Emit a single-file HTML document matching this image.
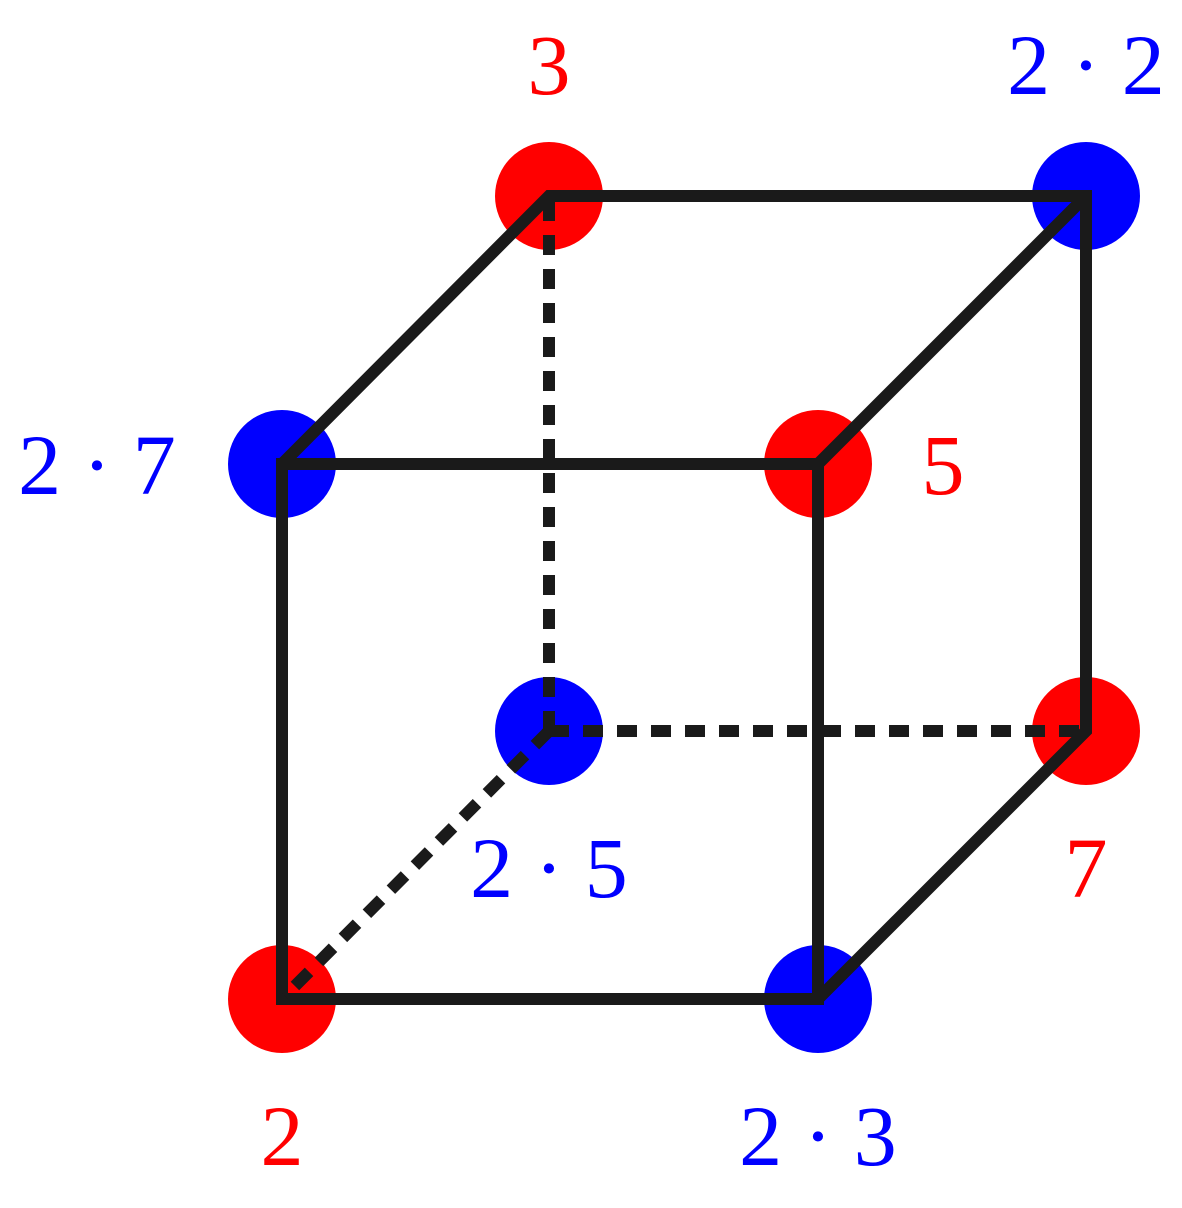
<!DOCTYPE html>
<html><head><style>body{margin:0;background:#fff}svg{display:block}</style></head><body>
<svg width="1182" height="1208" viewBox="0 0 1182 1208" xmlns="http://www.w3.org/2000/svg">
<g>
<circle cx="282" cy="464" r="54" fill="#0000ff"/>
<circle cx="818" cy="464" r="54" fill="#ff0000"/>
<circle cx="282" cy="999" r="54" fill="#ff0000"/>
<circle cx="818" cy="999" r="54" fill="#0000ff"/>
<circle cx="549" cy="196" r="54" fill="#ff0000"/>
<circle cx="1086" cy="196" r="54" fill="#0000ff"/>
<circle cx="549" cy="731" r="54" fill="#0000ff"/>
<circle cx="1086" cy="731" r="54" fill="#ff0000"/>
</g>
<g stroke="#1a1a1a" stroke-width="12" fill="none" stroke-linejoin="miter">
<path d="M282 464 H818 V999 H282 Z"/>
<path d="M282 464 L549 196 H1086 V731 L818 999"/>
<path d="M818 464 L1086 196"/>
<g stroke-dasharray="20 14">
<path d="M549 731 V196"/>
<path d="M549 731 H1086"/>
<path d="M549 731 L282 999"/>
</g>
</g>
<g font-family="Liberation Serif, serif" font-size="86" text-anchor="middle">
<text x="549" y="94" fill="#ff0000">3</text>
<text x="1086" y="94" fill="#0000ff">2 · 2</text>
<text x="97" y="494" fill="#0000ff">2 · 7</text>
<text x="943" y="494" fill="#ff0000">5</text>
<text x="549" y="897" fill="#0000ff">2 · 5</text>
<text x="1086" y="897" fill="#ff0000">7</text>
<text x="282" y="1165" fill="#ff0000">2</text>
<text x="818" y="1165" fill="#0000ff">2 · 3</text>
</g>
</svg>
</body></html>
